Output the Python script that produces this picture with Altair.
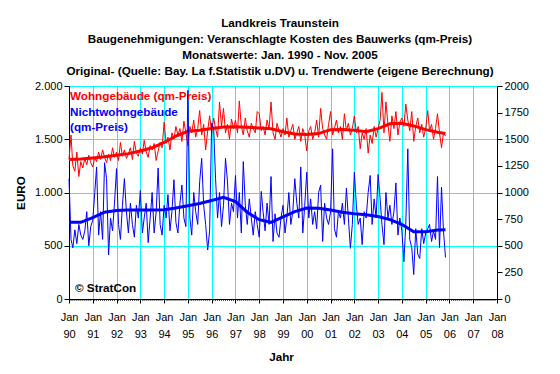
import altair as alt
import pandas as pd

# ---------------- data ----------------
title_lines = [
    "Landkreis Traunstein",
    "Baugenehmigungen: Veranschlagte Kosten des Bauwerks (qm-Preis)",
    "Monatswerte: Jan. 1990 - Nov. 2005",
    "Original- (Quelle: Bay. La f.Statistik u.DV) u. Trendwerte (eigene Berechnung)",
]
legend_labels = ["Wohngebäude (qm-Preis)", "Nichtwohngebäude", "(qm-Preis)"]
copyright_label = ["© StratCon"]

# Wohngebäude, monthly Jan 1990 - Nov 2005
wohn_raw = (
    [1310, 1540, 1250, 1200, 1380, 1150, 1290, 1230, 1320, 1260, 1350, 1280]
    + [1240, 1330, 1290, 1380, 1310, 1400, 1330, 1280, 1360, 1300, 1420, 1330]
    + [1380, 1300, 1470, 1340, 1400, 1320, 1360, 1420, 1310, 1480, 1370, 1340]
    + [1420, 1360, 1490, 1380, 1330, 1440, 1400, 1460, 1300, 1390, 1470, 1420]
    + [1660, 1460, 1520, 1400, 1560, 1500, 1620, 1540, 1600, 1480, 1670, 1560]
    + [1440, 1620, 1560, 1680, 1520, 1600, 1770, 1540, 1640, 1400, 1580, 1720]
    + [1560, 1700, 1600, 1520, 1850, 1620, 1790, 1560, 1640, 1500, 1690, 1600]
    + [1680, 1560, 1860, 1620, 1540, 1700, 1580, 1520, 1650, 1600, 1560, 1760]
    + [1740, 1580, 1620, 1540, 1680, 1600, 1850, 1560, 1500, 1650, 1580, 1520]
    + [1600, 1540, 1700, 1520, 1580, 1640, 1500, 1560, 1620, 1480, 1600, 1540]
    + [1390, 1580, 1620, 1500, 1560, 1680, 1520, 1790, 1600, 1540, 1500, 1640]
    + [1760, 1540, 1600, 1680, 1560, 1620, 1500, 1740, 1580, 1650, 1540, 1600]
    + [1720, 1560, 1620, 1410, 1560, 1500, 1600, 1370, 1540, 1460, 1620, 1520]
    + [1600, 1680, 1940, 1560, 1850, 1640, 1480, 1720, 1600, 1760, 1540, 1660]
    + [1700, 1620, 1830, 1680, 1580, 1760, 1480, 1620, 1700, 1560, 1640, 1520]
    + [1600, 1770, 1580, 1640, 1500, 1600, 1740, 1560, 1420, 1560, 1530]
)

# Nichtwohngebäude, monthly Jan 1990 - Nov 2005
nicht_raw = (
    [1130, 560, 480, 650, 520, 700, 600, 560, 640, 820, 500, 680]
    + [740, 1000, 1240, 600, 820, 560, 1280, 1130, 414, 760, 640, 900]
    + [1225, 700, 560, 880, 1130, 820, 620, 900, 700, 580, 880, 760]
    + [1020, 620, 760, 900, 530, 760, 1000, 620, 820, 1230, 700, 600]
    + [880, 760, 980, 640, 820, 1120, 720, 620, 900, 1070, 760, 680]
    + [1960, 760, 600, 1000, 820, 700, 1100, 1320, 880, 700, 460, 640]
    + [1650, 1600, 1130, 760, 1000, 680, 880, 1320, 1100, 700, 900, 820]
    + [1160, 760, 1000, 620, 1290, 880, 700, 940, 760, 600, 820, 700]
    + [580, 1010, 820, 640, 900, 700, 1150, 540, 800, 620, 580, 760]
    + [880, 620, 760, 1000, 700, 820, 1130, 900, 760, 1240, 620, 880]
    + [1190, 760, 940, 700, 820, 660, 1000, 1070, 540, 900, 760, 700]
    + [820, 1410, 660, 580, 820, 760, 900, 700, 1040, 760, 476, 700]
    + [1190, 880, 700, 760, 510, 820, 760, 1000, 1160, 700, 940, 760]
    + [1170, 940, 700, 510, 1000, 760, 880, 700, 820, 1090, 600, 760]
    + [640, 350, 700, 1410, 560, 480, 230, 660, 420, 380, 660, 520]
    + [620, 660, 700, 540, 640, 560, 1150, 480, 1050, 640, 390]
)

trend_dates = [
    "1990-01-01", "1990-07-01", "1991-01-01", "1991-07-01", "1992-01-01", "1992-07-01",
    "1993-01-01", "1993-07-01", "1994-01-01", "1994-07-01", "1995-01-01", "1995-07-01",
    "1996-01-01", "1996-07-01", "1997-01-01", "1997-07-01", "1998-01-01", "1998-07-01",
    "1999-01-01", "1999-07-01", "2000-01-01", "2000-07-01", "2001-01-01", "2001-07-01",
    "2002-01-01", "2002-07-01", "2003-01-01", "2003-07-01", "2004-01-01", "2004-07-01",
    "2005-01-01", "2005-07-01", "2005-11-01",
]
wohn_trend = [
    1310, 1315, 1325, 1335, 1350, 1365, 1390, 1420, 1470, 1530, 1575, 1585,
    1600, 1615, 1618, 1612, 1605, 1598, 1570, 1550, 1545, 1553, 1590, 1592,
    1585, 1570, 1600, 1645, 1650, 1625, 1590, 1565, 1553,
]
nicht_trend = [
    720, 720, 765, 815, 832, 835, 835, 835, 838, 855, 875, 897,
    925, 955, 915, 815, 745, 720, 770, 820, 855, 852, 835, 815,
    800, 792, 775, 745, 700, 632, 632, 648, 650,
]

year_ticks = list(range(1990, 2009))
y_ticks = [0, 250, 500, 750, 1000, 1250, 1500, 1750, 2000]

# ---------------- tables ----------------
months = pd.date_range("1990-01-01", periods=len(wohn_raw), freq="MS").strftime("%Y-%m-%d")
df_w = pd.DataFrame({"date": months, "value": wohn_raw})
df_n = pd.DataFrame({"date": months[: len(nicht_raw)], "value": nicht_raw})
df_wt = pd.DataFrame({"date": trend_dates, "value": wohn_trend})
df_nt = pd.DataFrame({"date": trend_dates, "value": nicht_trend})
minor = pd.date_range("1990-01-01", "2007-12-01", freq="MS")
df_minor = pd.DataFrame({"date": minor[minor.month != 1].strftime("%Y-%m-%d")})

W, H = 428, 213
FONT = "Liberation Sans"
BOLD_SIZE = 11.7
RED, BLUE = "#FF0000", "#0000FF"

x_scale = alt.Scale(domain=[alt.DateTime(year=1990, month=1, date=1),
                            alt.DateTime(year=2008, month=1, date=1)])
y_scale = alt.Scale(domain=[0, 2000], nice=False)

x_axis = alt.Axis(
    values=[alt.DateTime(year=y, month=1, date=1) for y in year_ticks],
    labelExpr="['Jan', timeFormat(datum.value, '%y')]",
    labelLineHeight=17, labelPadding=8, labelFont=FONT, labelFontSize=11,
    labelColor="black", labelFlush=False, labelOverlap=False,
    title="Jahr", titleFont=FONT, titleFontSize=BOLD_SIZE, titleFontWeight="bold",
    titleColor="black", titleX=W / 2 - 2, titleY=57, titleBaseline="middle",
    grid=True, gridColor="#00FFFF", gridWidth=1, gridOpacity=1,
    domainColor="black", tickColor="black", tickSize=4,
)
y_axis_left = alt.Axis(
    values=y_ticks, labelExpr="replace(format(datum.value, ',d'), ',', '.')",
    labelFont=FONT, labelFontSize=11, labelColor="black",
    labelPadding=2, title="EURO", titleFont=FONT, titleFontSize=BOLD_SIZE,
    titleFontWeight="bold", titleColor="black", titleX=-49, titleY=H / 2,
    titleAngle=270, titleAlign="center", titleBaseline="middle",
    grid=True, gridColor="#00FFFF", gridWidth=1, gridOpacity=1,
    domainColor="black", tickColor="black", tickSize=5,
)
y_axis_right = alt.Axis(
    orient="right", values=y_ticks, format="d", labelFont=FONT, labelFontSize=11,
    labelColor="black", labelPadding=2, title=None, grid=False,
    domainColor="black", tickColor="black", tickSize=5,
)

X = alt.X("date:T", scale=x_scale, axis=x_axis, title="Jahr")

w_line = alt.Chart(df_w).mark_line(color=RED, strokeWidth=1).encode(
    x=X, y=alt.Y("value:Q", scale=y_scale, axis=y_axis_left))
w_trend = alt.Chart(df_wt).mark_line(color=RED, strokeWidth=3).encode(
    x=X, y=alt.Y("value:Q", scale=y_scale))
n_line = alt.Chart(df_n).mark_line(color=BLUE, strokeWidth=1).encode(
    x=X, y=alt.Y("value:Q", scale=y_scale))
n_trend = alt.Chart(df_nt).mark_line(color=BLUE, strokeWidth=3).encode(
    x=X, y=alt.Y("value:Q", scale=y_scale))
minor_ticks = alt.Chart(df_minor).mark_tick(
    color="black", size=2, thickness=1, orient="vertical").encode(
    x=X, y=alt.value(H + 1))

data_layers = alt.layer(w_line, w_trend, n_line, n_trend, minor_ticks)

right_axis = alt.Chart(df_w).mark_line(opacity=0).encode(
    x=X, y=alt.Y("value:Q", scale=y_scale, axis=y_axis_right))


def label(text, color, y):
    return alt.Chart(pd.DataFrame({"t": [text]})).mark_text(
        align="left", baseline="middle", font=FONT, fontSize=BOLD_SIZE, fontWeight="bold",
        color=color).encode(text="t:N", x=alt.value(1), y=alt.value(y))


texts = [
    label(legend_labels[0], RED, 10),
    label(legend_labels[1], BLUE, 25.5),
    label(legend_labels[2], BLUE, 40.5),
    alt.Chart(pd.DataFrame({"t": copyright_label})).mark_text(
        align="left", baseline="middle", font=FONT, fontSize=BOLD_SIZE, fontWeight="bold",
        color="black").encode(text="t:N", x=alt.value(6), y=alt.value(202)),
]

chart = alt.layer(data_layers, right_axis, *texts).resolve_scale(y="independent").properties(
    width=W,
    height=H,
    title=alt.TitleParams(
        text=title_lines, font=FONT, fontSize=BOLD_SIZE, fontWeight="bold", color="black",
        lineHeight=16, anchor="middle", frame="group", offset=2, dx=-3,
    ),
    autosize=alt.AutoSizeParams(type="none"),
    padding={"left": 61, "top": 78, "right": 55, "bottom": 67},
).configure_view(
    fill="#C0C0C0", stroke="#808080", strokeWidth=1
).configure(background="white")

chart.save("out.html", embed_options={"renderer": "svg", "actions": False})
